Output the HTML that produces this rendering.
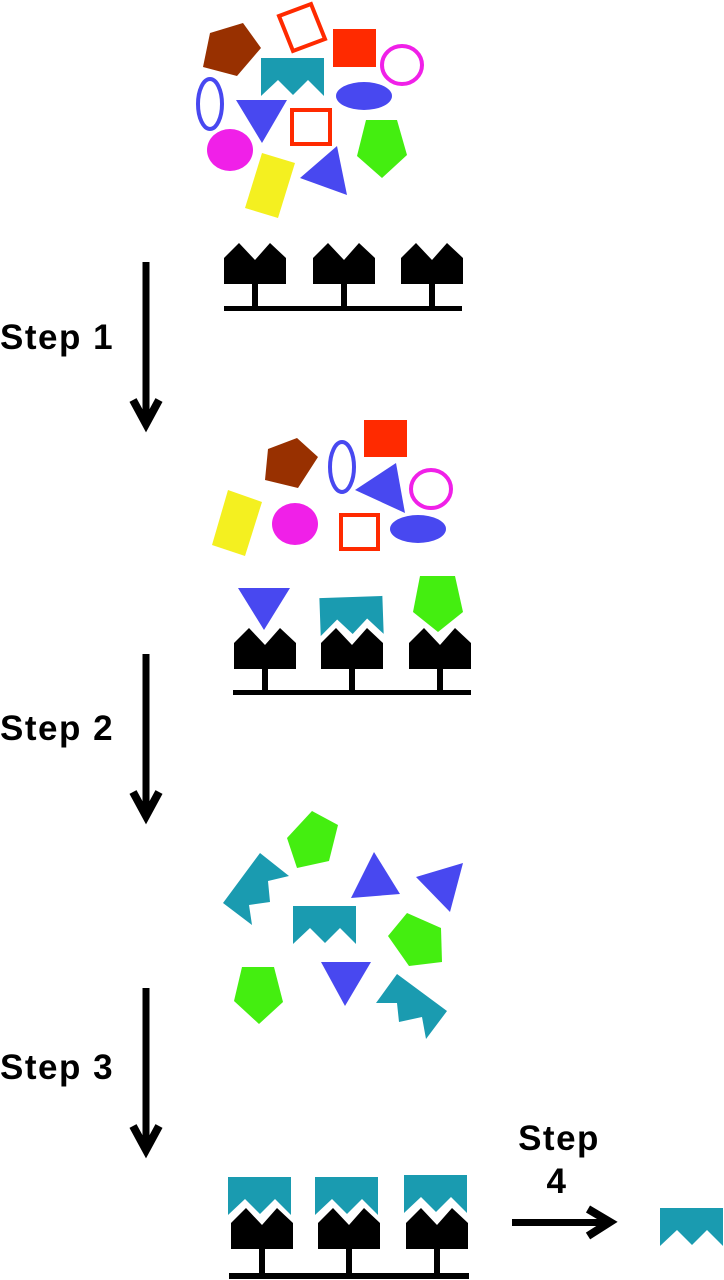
<!DOCTYPE html>
<html><head><meta charset="utf-8"><style>html,body{margin:0;padding:0;background:#fff}svg{display:block}text{font-family:"Liberation Sans",sans-serif;font-weight:bold;font-size:35px;letter-spacing:1.5px;fill:#000}</style></head>
<body>
<svg width="724" height="1280" viewBox="0 0 724 1280" xmlns="http://www.w3.org/2000/svg">
<defs>
<g id="rec"><path d="M-31,15 L-16,0 L0,17 L15,0 L31,15 L31,41 L-31,41 Z" fill="#000"/><rect x="-3" y="40" width="6" height="25" fill="#000"/></g>
<path id="tl" d="M0,0 H63 V38 L47,22 L32,37 L17,22 L0,38 Z" fill="#1a9bb0"/>
<g id="arr"><rect x="-3.5" y="0" width="7" height="160" fill="#000"/><path d="M-13,138 L0,162 L13,138" fill="none" stroke="#000" stroke-width="8"/></g>
</defs>

<polygon points="210,33 243,23 261,48 237,76 203,67" fill="#983000"/>
<polygon points="279,16 311,4 325,39 293,51" fill="none" stroke="#ff2a00" stroke-width="4"/>
<rect x="333" y="29" width="43" height="38" fill="#ff2a00"/>
<ellipse cx="402" cy="65" rx="20" ry="19" fill="none" stroke="#f020e8" stroke-width="4"/>
<use href="#tl" x="261" y="58"/>
<ellipse cx="210" cy="104" rx="12" ry="25" fill="none" stroke="#4848f0" stroke-width="4"/>
<ellipse cx="364" cy="96" rx="28" ry="14" fill="#4848f0"/>
<polygon points="236,100 287,100 262,143" fill="#4848f0"/>
<rect x="292" y="110" width="38" height="34" fill="none" stroke="#ff2a00" stroke-width="4"/>
<ellipse cx="230" cy="150" rx="23" ry="21" fill="#f020e8"/>
<polygon points="366,120 397,120 407,155 382,178 357,156" fill="#44ee10"/>
<polygon points="262,153 295,163 278,218 245,208" fill="#f4f020"/>
<polygon points="337,146 347,195 300,178" fill="#4848f0"/>
<use href="#rec" x="255" y="243"/><use href="#rec" x="344" y="243"/><use href="#rec" x="432" y="243"/>
<rect x="224" y="306" width="238" height="5" fill="#000"/>

<use href="#arr" x="146" y="262"/>
<text x="0" y="349">Step 1</text>

<polygon points="268,449 297,438 318,457 298,488 265,480" fill="#983000"/>
<ellipse cx="342" cy="467" rx="12" ry="25" fill="none" stroke="#4848f0" stroke-width="4"/>
<rect x="364" y="420" width="43" height="37" fill="#ff2a00"/>
<polygon points="396,463 405,513 355,490" fill="#4848f0"/>
<ellipse cx="431" cy="489" rx="20" ry="19" fill="none" stroke="#f020e8" stroke-width="4"/>
<polygon points="228,490 262,502 245,556 212,545" fill="#f4f020"/>
<ellipse cx="295" cy="524" rx="23" ry="21" fill="#f020e8"/>
<rect x="341" y="515" width="37" height="34" fill="none" stroke="#ff2a00" stroke-width="4"/>
<ellipse cx="418" cy="529" rx="28" ry="14" fill="#4848f0"/>
<polygon points="238,588 290,588 264,630" fill="#4848f0"/>
<use href="#tl" x="320" y="597" transform="rotate(-2 352 615)"/>
<polygon points="420,576 455,576 463,612 438,632 413,612" fill="#44ee10"/>
<use href="#rec" x="265" y="628"/><use href="#rec" x="352" y="628"/><use href="#rec" x="440" y="628"/>
<rect x="233" y="690" width="238" height="5" fill="#000"/>

<use href="#arr" x="146" y="654"/>
<text x="0" y="740">Step 2</text>

<polygon points="312,811 338,825 329,861 297,868 287,838" fill="#44ee10"/>
<polygon points="260,853 289,876 268,881 270,902 249,905 252,925 223,903" fill="#1a9bb0"/>
<polygon points="374,852 400,894 351,898" fill="#4848f0"/>
<polygon points="416,877 463,863 450,912" fill="#4848f0"/>
<use href="#tl" x="293" y="906"/>
<polygon points="407,913 441,928 442,962 409,966 388,936" fill="#44ee10"/>
<polygon points="242,967 274,967 283,1002 259,1024 234,1001" fill="#44ee10"/>
<polygon points="321,962 371,962 345,1006" fill="#4848f0"/>
<polygon points="397,974 447,1011 426,1039 422,1017 399,1022 397,1003 376,1003" fill="#1a9bb0"/>

<use href="#arr" x="146" y="988"/>
<text x="0" y="1079">Step 3</text>

<use href="#tl" x="228" y="1177"/><use href="#tl" x="315" y="1177"/><use href="#tl" x="404" y="1175"/>
<use href="#rec" x="262" y="1208"/><use href="#rec" x="349" y="1208"/><use href="#rec" x="437" y="1208"/>
<rect x="229" y="1273" width="240" height="6" fill="#000"/>

<text x="559" y="1150" text-anchor="middle">Step</text>
<text x="557" y="1193" text-anchor="middle">4</text>
<rect x="512" y="1219" width="96" height="7" fill="#000"/>
<path d="M588,1209 L610,1222 L588,1236" fill="none" stroke="#000" stroke-width="8"/>
<use href="#tl" x="660" y="1208"/>
</svg>
</body></html>
